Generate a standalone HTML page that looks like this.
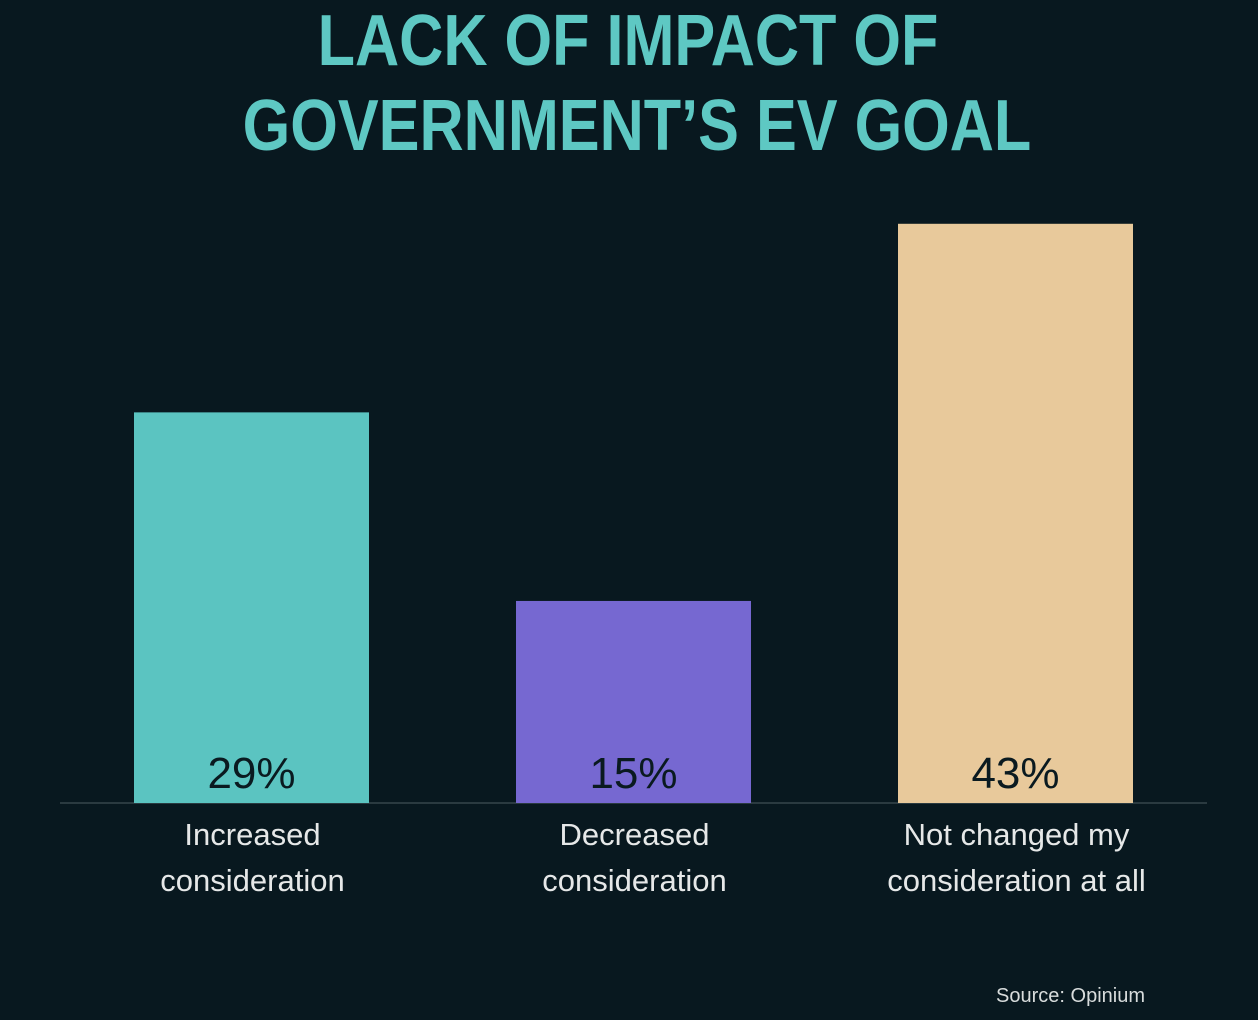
<!DOCTYPE html>
<html><head><meta charset="utf-8"><style>
html,body{margin:0;padding:0;background:#08181f;width:1258px;height:1020px;overflow:hidden}
svg{display:block}
</style></head><body>
<svg width="1258" height="1020">
<rect width="1258" height="1020" fill="#08181f"/>
<g fill="#5ec8c3" font-family="Liberation Sans, sans-serif" font-weight="bold" font-size="72" text-anchor="middle">
<text x="628" y="65" transform="translate(628,0) scale(0.85,1) translate(-628,0)">LACK OF IMPACT OF</text>
<text x="637" y="150" transform="translate(637,0) scale(0.85,1) translate(-637,0)">GOVERNMENT’S EV GOAL</text>
</g>
<line x1="60" y1="803" x2="1207" y2="803" stroke="#2a3a40" stroke-width="2"/>
<g id="bars"></g>
<text x="1145" y="1002" text-anchor="end" fill="#d8dcdc" font-family="Liberation Sans, sans-serif" font-size="20">Source: Opinium</text>
</svg>
<script>
const categories = [["Increased","consideration"],["Decreased","consideration"],["Not changed my","consideration at all"]];
const values = [29, 15, 43];
const valueLabels = ["29%","15%","43%"];
const colors = ["#5bc4c1","#7668d1","#e8c99b"];
const NS="http://www.w3.org/2000/svg";
const baseY=803, pxPerPct=13.47, barW=235, firstX=134, step=382;
const y = v => baseY - v*pxPerPct;
const x = i => firstX + i*step;
const g=document.getElementById('bars');
values.forEach((v,i)=>{
  const r=document.createElementNS(NS,'rect');
  
  
  r.setAttribute('x',x(i));r.setAttribute('y',y(v));
  r.setAttribute('width',barW);r.setAttribute('height',baseY-y(v));
  r.setAttribute('fill',colors[i]);g.appendChild(r);
  const t=document.createElementNS(NS,'text');
  
  
  t.setAttribute('x',x(i)+barW/2);t.setAttribute('y',788);
  t.setAttribute('text-anchor','middle');t.setAttribute('font-family','Liberation Sans, sans-serif');
  t.setAttribute('font-size','44');t.setAttribute('fill','#0a1a20');
  t.textContent=valueLabels[i];g.appendChild(t);
  categories[i].forEach((line,j)=>{
    const c=document.createElementNS(NS,'text');
    
    
    c.setAttribute('x',x(i)+barW/2+1);c.setAttribute('y',845+j*46);
    c.setAttribute('text-anchor','middle');c.setAttribute('font-family','Liberation Sans, sans-serif');
    c.setAttribute('font-size','31');c.setAttribute('fill','#e6e8e8');
    c.textContent=line;g.appendChild(c);
  });
});
</script>
</body></html>
